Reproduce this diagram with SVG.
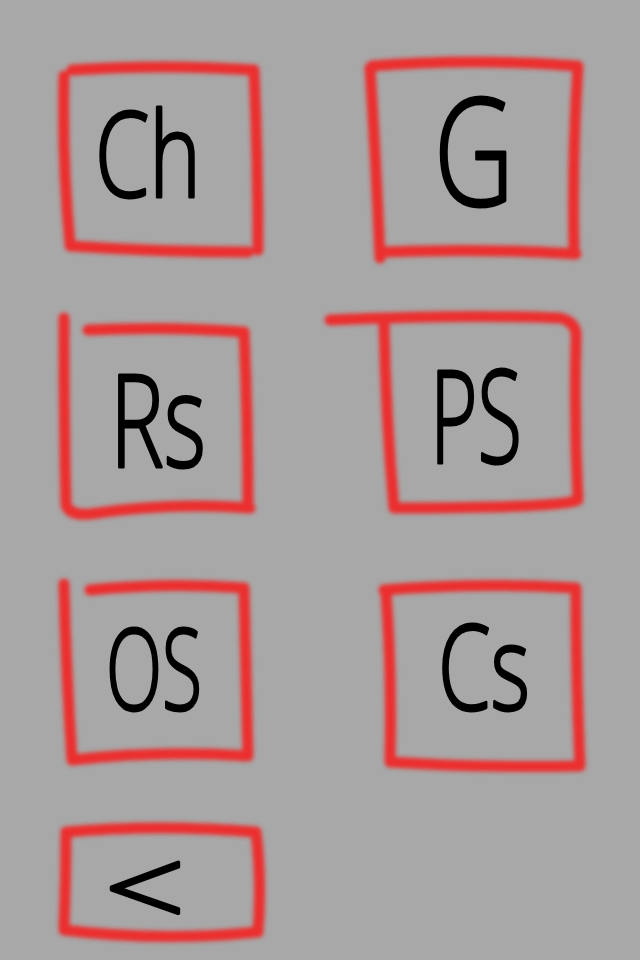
<svg xmlns="http://www.w3.org/2000/svg" width="640" height="960" viewBox="0 0 640 960">
<defs>
<filter id="soft" x="-10%" y="-10%" width="120%" height="120%"><feGaussianBlur stdDeviation="2"/></filter>
</defs>
<style>
.box{fill:none;stroke:#ec2f2f;stroke-width:11;stroke-linecap:round;stroke-linejoin:round;filter:url(#soft)}
.lbl{font-family:"Open Sans","DejaVu Sans",sans-serif;font-weight:300;fill:#000;stroke:#000;stroke-width:3;stroke-linejoin:round}
</style>
<rect width="640" height="960" fill="#a8a8a8"/>
<g id="node-ch">
<path class="box" d="M64 76 Q62 160 70 244 M72 70 Q160 64 254 70 Q258 160 258 250 M70 246 Q160 252 248 252"/>
<text class="lbl" x="95" y="197" font-size="118" textLength="106" lengthAdjust="spacingAndGlyphs">Ch</text>
</g>
<g id="node-g">
<path class="box" d="M370 68 Q376 160 380 258 M372 66 Q470 58 578 66 Q572 160 574 250 M382 252 Q480 248 576 254"/>
<text class="lbl" x="434" y="206" font-size="150" textLength="80" lengthAdjust="spacingAndGlyphs">G</text>
</g>
<g id="node-rs">
<path class="box" d="M64 318 Q64 420 66 505 Q70 516 90 514 Q170 502 250 508 M88 330 Q170 326 244 332 Q248 420 248 505"/>
<text class="lbl" x="110" y="467" font-size="130" textLength="96" lengthAdjust="spacingAndGlyphs">Rs</text>
</g>
<g id="node-ps">
<path class="box" d="M330 320 Q460 314 560 318 Q578 322 576 340 Q574 420 578 500 Q560 508 394 508 Q386 420 384 322"/>
<text class="lbl" x="430" y="463" font-size="130" textLength="92" lengthAdjust="spacingAndGlyphs">PS</text>
</g>
<g id="node-os">
<path class="box" d="M64 584 Q66 670 72 760 M90 590 Q170 582 244 588 Q246 670 248 756 M72 760 Q160 750 248 756"/>
<text class="lbl" x="106" y="710" font-size="112" textLength="96" lengthAdjust="spacingAndGlyphs">OS</text>
</g>
<g id="node-cs">
<path class="box" d="M384 590 Q480 582 576 588 Q576 670 580 766 M386 592 Q392 670 390 762 Q480 768 578 766"/>
<text class="lbl" x="438" y="710" font-size="118" textLength="92" lengthAdjust="spacingAndGlyphs">Cs</text>
</g>
<g id="node-back">
<path class="box" d="M66 832 Q160 824 256 832 Q262 880 258 932 Q160 942 64 930 Q66 880 66 832"/>
<text class="lbl" x="104" y="928" font-size="110" textLength="82" lengthAdjust="spacingAndGlyphs">&lt;</text>
</g>
<g id="connectors"/>
</svg>
